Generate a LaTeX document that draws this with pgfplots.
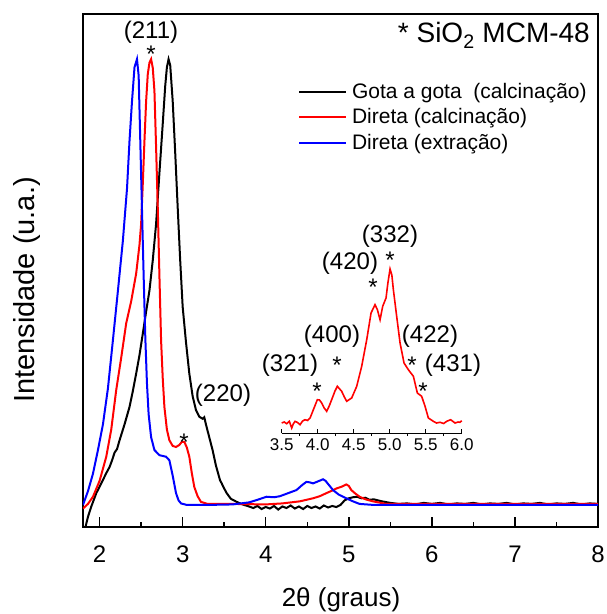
\documentclass[border=0pt]{standalone}
\usepackage{pgfplots}
\pgfplotsset{compat=1.18}
\usepackage{fontspec}
\setmainfont{Liberation Sans}
\begin{document}
\begin{tikzpicture}
\path[use as bounding box] (-83pt,-87pt) rectangle (523pt,527pt);
\begin{axis}[
  at={(0pt,0pt)}, anchor=south west,
  scale only axis, width=515pt, height=513pt,
  xmin=1.8, xmax=8, ymin=0, ymax=1,
  xtick={2,...,8}, minor x tick num=1, ytick=\empty,
  xtick pos=bottom, tick align=inside,
  major tick length=10pt, minor tick length=5pt,
  every tick/.style={line width=1.5pt, black},
  axis line style={line width=2.2pt},
  /pgf/number format/assume math mode=true,
  xticklabel style={font=\fontsize{24}{28}\selectfont, anchor=base, yshift=-35pt},
  xlabel={2θ (graus)},
  xlabel style={font=\fontsize{26}{30}\selectfont, at={(axis description cs:0.501,-0.155)}, anchor=base},
  ylabel={Intensidade (u.a.)},
  ylabel style={font=\fontsize{29}{33}\selectfont, at={(axis description cs:-0.0951,0.462)}, anchor=base, rotate=0},
  legend style={at={(axis description cs:0.4175,0.873)}, anchor=north west, draw=none, fill=none,
    inner sep=0pt, outer sep=0pt, row sep=0pt, font=\fontsize{21}{25}\selectfont,
    nodes={inner sep=0pt, text height=19pt, text depth=6.5pt},
    /tikz/every odd column/.append style={column sep=5pt}},
  legend cell align=left,
  legend image code/.code={\draw[#1] (0pt,0pt) -- (47pt,0pt);},
]
\addplot[color=black, line width=2pt] coordinates {
(1.83,0.0)(1.86,0.02)(1.90,0.04)(1.96,0.066)(2.02,0.085)(2.08,0.105)(2.12,0.117)(2.15,0.13)(2.18,0.145)(2.21,0.152)(2.24,0.169)(2.30,0.2)(2.36,0.234)(2.40,0.265)(2.44,0.299)(2.48,0.335)(2.52,0.377)(2.56,0.42)(2.60,0.461)(2.64,0.52)(2.68,0.591)(2.72,0.69)(2.76,0.786)(2.79,0.86)(2.81,0.896)(2.83,0.912)(2.85,0.9)(2.88,0.83)(2.91,0.73)(2.94,0.623)(2.97,0.52)(3.00,0.429)(3.04,0.36)(3.08,0.299)(3.12,0.255)(3.16,0.228)(3.20,0.215)(3.24,0.211)(3.26,0.214)(3.28,0.20)(3.32,0.175)(3.36,0.15)(3.40,0.12)(3.45,0.091)(3.47,0.085)(3.49,0.078)(3.53,0.066)(3.58,0.055)(3.65,0.049)(3.72,0.044)(3.8,0.04)(3.85,0.037)(3.9,0.041)(3.95,0.035)(4.0,0.039)(4.05,0.036)(4.1,0.041)(4.15,0.034)(4.2,0.04)(4.25,0.037)(4.3,0.042)(4.35,0.036)(4.4,0.04)(4.45,0.035)(4.5,0.041)(4.55,0.037)(4.6,0.04)(4.65,0.036)(4.7,0.042)(4.75,0.038)(4.8,0.041)(4.85,0.039)(4.9,0.043)(4.95,0.052)(5.0,0.056)(5.05,0.058)(5.1,0.059)(5.15,0.056)(5.2,0.057)(5.25,0.053)(5.3,0.054)(5.4,0.05)(5.5,0.047)(5.6,0.045)(5.7,0.046)(5.8,0.044)(5.9,0.047)(6.0,0.045)(6.1,0.047)(6.2,0.044)(6.3,0.046)(6.4,0.045)(6.5,0.047)(6.6,0.044)(6.7,0.046)(6.8,0.045)(6.9,0.047)(7.0,0.044)(7.1,0.046)(7.2,0.045)(7.3,0.047)(7.4,0.044)(7.5,0.046)(7.6,0.045)(7.7,0.047)(7.8,0.044)(7.9,0.046)(8.0,0.045)
};
\addlegendentry{Gota a gota\ \ (calcinação)}
\addplot[color=red, line width=2pt] coordinates {
(1.80,0.036)(1.86,0.045)(1.92,0.059)(2.0,0.09)(2.08,0.137)(2.14,0.19)(2.20,0.267)(2.26,0.33)(2.32,0.397)(2.38,0.44)(2.44,0.494)(2.48,0.55)(2.50,0.591)(2.52,0.67)(2.54,0.753)(2.56,0.83)(2.58,0.883)(2.60,0.905)(2.62,0.912)(2.64,0.895)(2.66,0.85)(2.68,0.74)(2.70,0.623)(2.72,0.49)(2.74,0.364)(2.76,0.29)(2.78,0.234)(2.81,0.19)(2.84,0.169)(2.88,0.158)(2.92,0.156)(2.96,0.16)(2.99,0.166)(3.02,0.166)(3.05,0.155)(3.08,0.137)(3.11,0.105)(3.14,0.078)(3.18,0.06)(3.22,0.049)(3.3,0.045)(3.6,0.045)(4.0,0.044)(4.2,0.046)(4.41,0.05)(4.57,0.056)(4.65,0.06)(4.73,0.066)(4.80,0.071)(4.85,0.075)(4.92,0.079)(4.97,0.083)(5.0,0.08)(5.03,0.072)(5.08,0.065)(5.13,0.059)(5.2,0.054)(5.29,0.05)(5.45,0.045)(6,0.045)(8,0.045)
};
\addlegendentry{Direta (calcinação)}
\addplot[color=blue, line width=2pt] coordinates {
(1.80,0.043)(1.86,0.07)(1.92,0.104)(1.98,0.15)(2.04,0.20)(2.10,0.27)(2.16,0.364)(2.22,0.46)(2.28,0.558)(2.33,0.66)(2.36,0.753)(2.39,0.83)(2.42,0.896)(2.45,0.912)(2.47,0.88)(2.49,0.75)(2.51,0.62)(2.53,0.49)(2.55,0.37)(2.57,0.28)(2.59,0.22)(2.62,0.175)(2.66,0.15)(2.72,0.14)(2.80,0.137)(2.84,0.13)(2.88,0.10)(2.92,0.066)(2.95,0.052)(2.98,0.046)(3.05,0.043)(3.3,0.043)(3.6,0.044)(3.8,0.048)(3.9,0.053)(4.01,0.059)(4.1,0.058)(4.17,0.06)(4.27,0.066)(4.37,0.072)(4.44,0.082)(4.49,0.088)(4.53,0.087)(4.57,0.085)(4.63,0.089)(4.69,0.093)(4.72,0.09)(4.76,0.082)(4.81,0.072)(4.88,0.063)(4.97,0.056)(5.05,0.05)(5.13,0.045)(5.3,0.043)(6,0.043)(7,0.043)(8,0.043)
};
\addlegendentry{Direta (extração)}
\end{axis}
\begin{axis}[
  at={(198.7pt,94pt)}, anchor=south west,
  scale only axis, width=180pt, height=180pt,
  xmin=3.5, xmax=6, ymin=0, ymax=180,
  axis x line=bottom, axis y line=none,
  x axis line style={-, line width=1pt},
  xtick={3.5,4,...,6}, minor x tick num=1, ytick=\empty,
  tick align=inside, major tick length=4pt, minor tick length=3pt,
  every tick/.style={line width=0.9pt, black},
  minor x tick style={yshift=-3pt},
  /pgf/number format/assume math mode=true,
  xticklabel style={font=\fontsize{17}{20}\selectfont, anchor=base, yshift=-17pt,
    /pgf/number format/.cd, fixed, fixed zerofill, precision=1},
  clip=false,
]
\addplot[color=red, line width=1.6pt] coordinates {
(3.500,10.0)(3.535,11.0)(3.569,9.3)(3.606,11.7)(3.639,5.0)(3.660,9.0)(3.685,11.7)(3.720,10.5)(3.755,8.3)(3.790,12.0)(3.824,13.3)(3.860,12.5)(3.894,15.0)(3.940,23.3)(3.995,33.3)(4.025,33.0)(4.056,30.0)(4.090,25.0)(4.125,21.7)(4.160,27.0)(4.194,33.3)(4.240,42.0)(4.273,46.7)(4.333,41.7)(4.370,36.0)(4.403,31.7)(4.472,35.0)(4.542,46.7)(4.611,66.7)(4.681,93.3)(4.741,120.0)(4.796,128.3)(4.829,123.3)(4.866,113.3)(4.903,126.7)(4.949,135.0)(4.975,150.0)(5.005,164.0)(5.030,158.0)(5.051,143.3)(5.097,116.7)(5.144,90.0)(5.199,70.0)(5.259,63.3)(5.329,56.7)(5.384,40.0)(5.444,36.7)(5.491,26.7)(5.537,15.0)(5.606,11.7)(5.650,10.0)(5.699,10.7)(5.750,9.5)(5.792,11.7)(5.847,13.3)(5.907,10.0)(5.950,11.0)(5.977,10.7)(6.000,12.3)
};
\end{axis}
\begin{scope}[every node/.style={font=\fontsize{24}{28}\selectfont, inner sep=0pt, anchor=base}]
\node at (68pt,488pt) {(211)};
\node at (68pt,464pt) {*};
\node at (140pt,125pt) {(220)};
\node at (101pt,77pt) {*};
\node at (307pt,284pt) {(332)};
\node at (307pt,258pt) {*};
\node at (267pt,257pt) {(420)};
\node at (290pt,231pt) {*};
\node at (249pt,184pt) {(400)};
\node at (207pt,155pt) {(321)};
\node at (254pt,153pt) {*};
\node at (234pt,127pt) {*};
\node at (347pt,184pt) {(422)};
\node at (329pt,153pt) {*};
\node at (370pt,155pt) {(431)};
\node at (340pt,127pt) {*};
\node[font=\fontsize{28}{32}\selectfont, anchor=base east] at (507pt,484pt) {* SiO\textsubscript{2} MCM-48};
\end{scope}
\end{tikzpicture}
\end{document}
